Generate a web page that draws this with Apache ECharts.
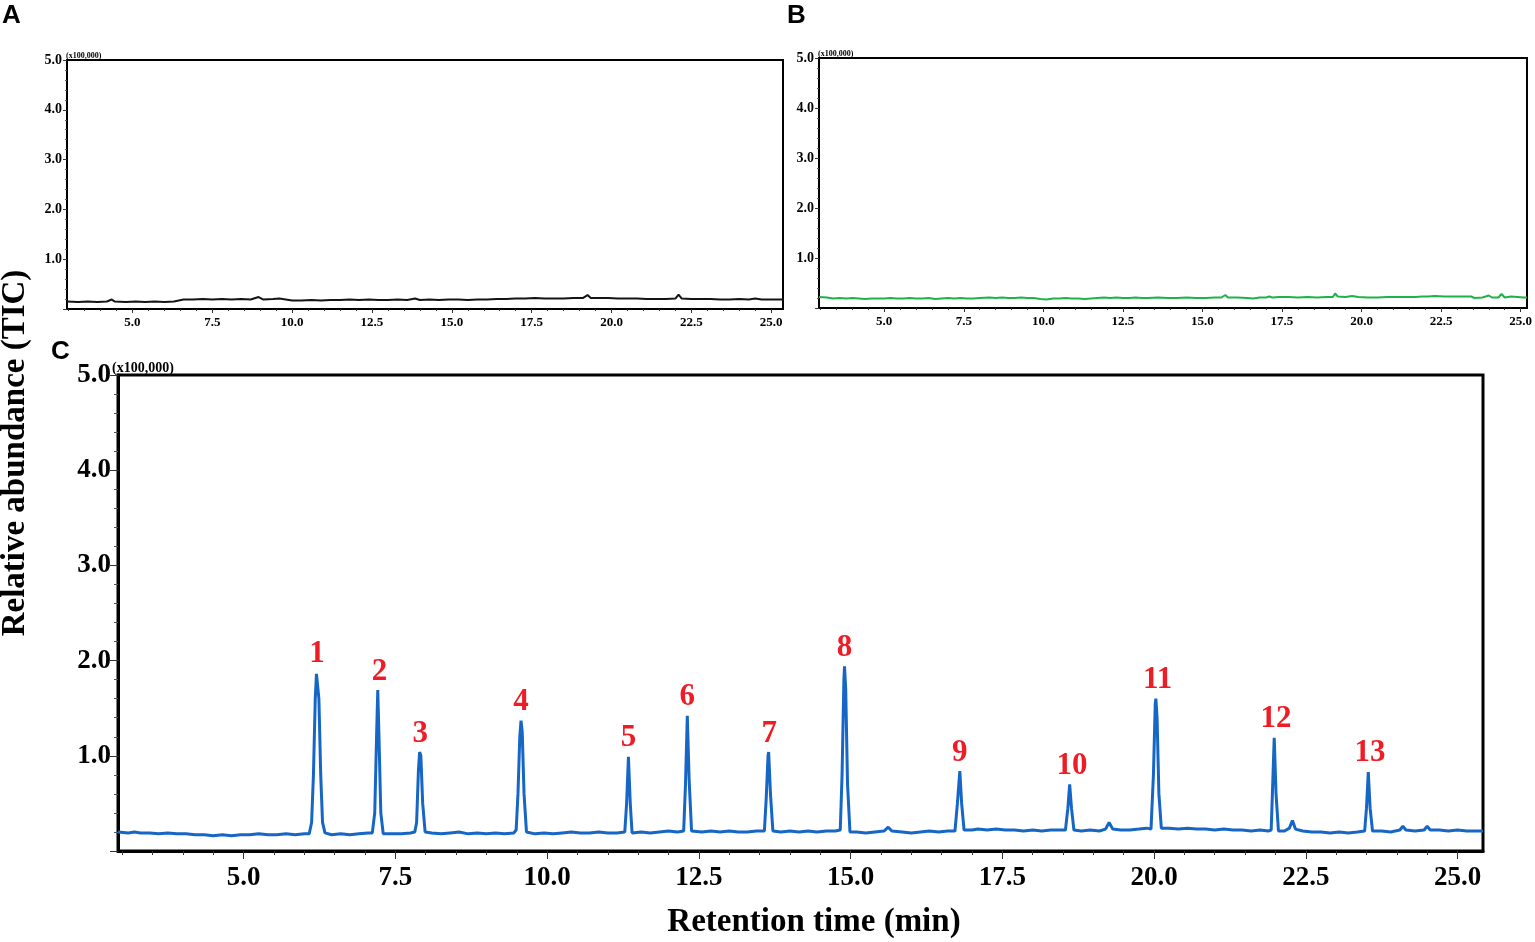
<!DOCTYPE html>
<html>
<head>
<meta charset="utf-8">
<script src="https://cdn.jsdelivr.net/npm/echarts@6/dist/echarts.min.js"></script>
<style>
html,body{margin:0;padding:0;background:#fff;}
#chart{width:1535px;height:942px;}
</style>
</head>
<body>
<div id="chart"></div>
<script>
// ---------- DATA ----------
const xMajorTicks = [5.0, 7.5, 10.0, 12.5, 15.0, 17.5, 20.0, 22.5, 25.0];
const xMinorTicks = [3.0, 3.5, 4.0, 4.5, 5.0, 5.5, 6.0, 6.5, 7.0, 7.5, 8.0, 8.5, 9.0, 9.5, 10.0, 10.5, 11.0, 11.5, 12.0, 12.5, 13.0, 13.5, 14.0, 14.5, 15.0, 15.5, 16.0, 16.5, 17.0, 17.5, 18.0, 18.5, 19.0, 19.5, 20.0, 20.5, 21.0, 21.5, 22.0, 22.5, 23.0, 23.5, 24.0, 24.5, 25.0];
const yMajorTicks = [1.0, 2.0, 3.0, 4.0, 5.0];
const yScaleNote = '(x100,000)';
const panelLetters = ['A', 'B', 'C'];

// Panel A (black TIC trace), [time (min), abundance (x100,000)]
const traceA = [[2.95,0.15],[3.3,0.14],[3.6,0.15],[3.9,0.14],[4.2,0.15],[4.35,0.19],[4.45,0.15],[4.8,0.14],[5.1,0.15],[5.4,0.14],[5.7,0.15],[6.0,0.14],[6.3,0.15],[6.45,0.17],[6.6,0.19],[6.9,0.19],[7.2,0.20],[7.5,0.19],[7.8,0.20],[8.1,0.19],[8.4,0.20],[8.7,0.19],[8.95,0.24],[9.1,0.19],[9.4,0.20],[9.6,0.21],[9.8,0.19],[10.0,0.17],[10.3,0.17],[10.6,0.18],[10.9,0.17],[11.2,0.18],[11.5,0.18],[11.8,0.19],[12.1,0.18],[12.4,0.19],[12.7,0.18],[13.0,0.18],[13.3,0.19],[13.6,0.18],[13.85,0.21],[14.0,0.18],[14.3,0.19],[14.6,0.18],[14.9,0.19],[15.2,0.19],[15.5,0.18],[15.8,0.19],[16.1,0.19],[16.4,0.20],[16.7,0.20],[17.0,0.21],[17.3,0.21],[17.6,0.22],[17.9,0.21],[18.2,0.21],[18.5,0.21],[18.8,0.22],[19.1,0.22],[19.25,0.28],[19.35,0.22],[19.6,0.22],[19.9,0.22],[20.2,0.21],[20.5,0.21],[20.8,0.21],[21.1,0.20],[21.4,0.20],[21.7,0.20],[22.0,0.21],[22.1,0.29],[22.2,0.21],[22.5,0.20],[22.8,0.20],[23.1,0.20],[23.4,0.19],[23.7,0.19],[24.0,0.20],[24.3,0.19],[24.5,0.21],[24.7,0.19],[25.0,0.19],[25.4,0.19]];

// Panel B (green TIC trace)
const traceB = [[2.95,0.22],[3.2,0.21],[3.4,0.19],[3.6,0.20],[3.8,0.19],[4.0,0.20],[4.2,0.19],[4.4,0.18],[4.6,0.19],[4.8,0.19],[5.0,0.19],[5.2,0.20],[5.4,0.19],[5.6,0.19],[5.8,0.20],[6.0,0.19],[6.2,0.19],[6.4,0.20],[6.6,0.18],[6.8,0.19],[7.0,0.20],[7.2,0.19],[7.4,0.20],[7.6,0.19],[7.8,0.19],[8.0,0.20],[8.3,0.21],[8.5,0.20],[8.7,0.21],[8.9,0.20],[9.1,0.20],[9.3,0.21],[9.5,0.20],[9.7,0.20],[9.9,0.18],[10.1,0.17],[10.3,0.19],[10.5,0.19],[10.7,0.20],[10.9,0.19],[11.1,0.19],[11.3,0.18],[11.5,0.19],[11.7,0.20],[11.9,0.21],[12.1,0.20],[12.3,0.21],[12.5,0.20],[12.7,0.20],[12.9,0.21],[13.1,0.20],[13.3,0.20],[13.6,0.21],[13.9,0.20],[14.2,0.20],[14.5,0.21],[14.8,0.20],[15.1,0.20],[15.4,0.21],[15.6,0.21],[15.72,0.26],[15.8,0.21],[16.1,0.21],[16.4,0.20],[16.6,0.19],[16.8,0.21],[17.0,0.21],[17.1,0.23],[17.2,0.21],[17.4,0.22],[17.7,0.22],[18.0,0.21],[18.3,0.22],[18.6,0.21],[18.9,0.22],[19.1,0.22],[19.17,0.29],[19.25,0.23],[19.5,0.22],[19.7,0.24],[19.9,0.22],[20.2,0.21],[20.5,0.21],[20.8,0.22],[21.1,0.22],[21.4,0.22],[21.7,0.22],[21.9,0.23],[22.1,0.23],[22.3,0.24],[22.6,0.23],[22.9,0.23],[23.2,0.23],[23.45,0.23],[23.55,0.20],[23.8,0.21],[24.0,0.25],[24.1,0.21],[24.3,0.21],[24.4,0.28],[24.5,0.21],[24.7,0.23],[24.9,0.22],[25.1,0.21],[25.2,0.21]];

// Panel C (blue TIC trace with 13 peaks)
const traceC = [[2.93,0.20],[3.10,0.19],[3.20,0.20],[3.30,0.19],[3.45,0.19],[3.60,0.18],[3.75,0.19],[3.90,0.18],[4.05,0.18],[4.20,0.17],[4.35,0.17],[4.50,0.16],[4.65,0.17],[4.80,0.16],[4.95,0.17],[5.10,0.17],[5.25,0.18],[5.40,0.17],[5.55,0.17],[5.70,0.18],[5.85,0.17],[6.00,0.18],
[6.08,0.18],[6.12,0.30],[6.15,0.80],[6.18,1.60],[6.20,1.86],[6.22,1.88],[6.24,1.60],[6.27,0.80],[6.30,0.30],[6.34,0.19],
[6.45,0.17],[6.60,0.18],[6.75,0.17],[6.90,0.18],[7.05,0.19],
[7.12,0.19],[7.16,0.40],[7.19,1.20],[7.21,1.69],[7.23,1.20],[7.26,0.40],[7.30,0.18],
[7.45,0.18],[7.60,0.18],[7.75,0.19],[7.82,0.20],
[7.85,0.30],[7.88,0.85],[7.90,1.04],[7.92,1.00],[7.95,0.50],[7.99,0.20],
[8.10,0.19],[8.25,0.18],[8.40,0.19],[8.55,0.20],[8.70,0.18],[8.85,0.19],[9.00,0.18],[9.15,0.19],[9.30,0.18],[9.45,0.19],
[9.49,0.22],[9.52,0.60],[9.55,1.20],[9.57,1.37],[9.59,1.25],[9.62,0.60],[9.66,0.20],
[9.80,0.18],[9.95,0.19],[10.10,0.18],[10.25,0.19],[10.40,0.20],[10.55,0.19],[10.70,0.19],[10.85,0.20],[11.00,0.19],[11.15,0.19],[11.28,0.20],
[11.31,0.50],[11.34,0.99],[11.37,0.50],[11.40,0.19],
[11.55,0.20],[11.70,0.19],[11.85,0.20],[12.00,0.21],[12.15,0.20],[12.25,0.21],
[12.28,0.70],[12.31,1.42],[12.34,0.75],[12.38,0.21],
[12.55,0.20],[12.70,0.21],[12.85,0.20],[13.00,0.21],[13.15,0.20],[13.30,0.20],[13.45,0.21],[13.58,0.21],
[13.61,0.55],[13.64,1.00],[13.65,1.04],[13.68,0.60],[13.72,0.21],
[13.85,0.20],[14.00,0.21],[14.15,0.20],[14.30,0.21],[14.45,0.20],[14.60,0.21],[14.75,0.21],[14.83,0.22],
[14.86,0.80],[14.89,1.80],[14.90,1.94],[14.92,1.70],[14.95,0.70],[14.99,0.20],
[15.10,0.20],[15.25,0.19],[15.40,0.20],[15.55,0.21],[15.62,0.25],[15.68,0.21],[15.85,0.20],[16.00,0.19],[16.15,0.20],[16.30,0.21],[16.45,0.20],[16.60,0.21],[16.72,0.21],
[16.76,0.50],[16.80,0.84],[16.83,0.50],[16.87,0.22],
[17.00,0.22],[17.10,0.23],[17.25,0.22],[17.40,0.23],[17.55,0.22],[17.70,0.22],[17.85,0.21],[18.00,0.22],[18.15,0.21],[18.30,0.22],[18.45,0.22],[18.54,0.22],
[18.58,0.45],[18.61,0.70],[18.64,0.45],[18.68,0.22],
[18.80,0.21],[18.95,0.22],[19.10,0.21],[19.20,0.23],[19.26,0.30],[19.32,0.23],[19.45,0.22],[19.60,0.22],[19.75,0.23],[19.88,0.24],[19.95,0.23],
[19.99,0.80],[20.02,1.55],[20.03,1.60],[20.05,1.40],[20.08,0.60],[20.12,0.24],
[20.25,0.24],[20.40,0.23],[20.55,0.24],[20.70,0.23],[20.85,0.23],[21.00,0.22],[21.15,0.23],[21.30,0.22],[21.45,0.22],[21.60,0.21],[21.75,0.22],[21.88,0.21],[21.93,0.22],
[21.95,0.60],[21.98,1.19],[22.01,0.60],[22.05,0.21],
[22.15,0.21],[22.23,0.24],[22.28,0.32],[22.33,0.23],[22.45,0.21],[22.60,0.20],[22.75,0.20],[22.90,0.19],[23.05,0.20],[23.20,0.19],[23.35,0.20],[23.47,0.21],
[23.50,0.45],[23.53,0.83],[23.56,0.45],[23.60,0.21],
[23.75,0.21],[23.90,0.20],[24.05,0.22],[24.10,0.26],[24.15,0.22],[24.30,0.21],[24.45,0.22],[24.50,0.26],[24.55,0.22],[24.70,0.22],[24.85,0.21],[25.00,0.22],[25.15,0.21],[25.30,0.21],[25.42,0.21]];

// Peak annotations in panel C
const peakNames = ['1','2','3','4','5','6','7','8','9','10','11','12','13'];
const peakTimes = [6.21, 7.24, 7.91, 9.57, 11.34, 12.31, 13.66, 14.90, 16.80, 18.65, 20.06, 22.01, 23.56];
const peakHeights = [1.88, 1.69, 1.04, 1.37, 0.99, 1.42, 1.04, 1.94, 0.84, 0.70, 1.60, 1.19, 0.83];

// ---------- CHART ----------
const SERIF = "'Liberation Serif','Times New Roman',serif";
const SANS = "'Liberation Sans',Arial,sans-serif";
const chart = echarts.init(document.getElementById('chart'), null, {renderer: 'canvas'});

function fmt(v) { return Number(v).toFixed(1); }

const grids = [
  {left: 67, top: 60, width: 716, height: 249, show: true, borderColor: '#000', borderWidth: 2, backgroundColor: 'transparent'},
  {left: 819, top: 58, width: 713, height: 250, show: true, borderColor: '#000', borderWidth: 2, backgroundColor: 'transparent'},
  {left: 118, top: 375, width: 1365, height: 476, show: true, borderColor: '#000', borderWidth: 3, backgroundColor: 'transparent'}
];
const xMin = [2.95, 2.95, 2.93];
const xMax = [25.37, 25.2, 25.42];
const small = [true, true, false];

const xAxes = [];
const yAxes = [];
grids.forEach((g, i) => {
  const s = small[i];
  xAxes.push({
    type: 'value', gridIndex: i, position: 'bottom', min: xMin[i], max: xMax[i],
    axisLine: {show: true, lineStyle: {color: '#000', width: s ? 2 : 3}},
    axisTick: {show: true, inside: false, customValues: xMinorTicks, length: s ? 2 : 4, lineStyle: {color: '#333', width: 1}},
    axisLabel: {show: true, customValues: xMajorTicks, formatter: fmt, margin: s ? 7 : 14,
      fontFamily: SERIF, fontWeight: 'bold', fontSize: s ? 13 : 27, color: '#000'},
    splitLine: {show: false}
  });
  xAxes.push({
    type: 'value', gridIndex: i, position: 'bottom', min: xMin[i], max: xMax[i],
    axisLine: {show: false},
    axisTick: {show: true, inside: false, customValues: xMajorTicks, length: s ? 4 : 8, lineStyle: {color: '#333', width: 1}},
    axisLabel: {show: false},
    splitLine: {show: false}
  });
  yAxes.push({
    type: 'value', gridIndex: i, min: 0, max: 5, interval: 1,
    axisLine: {show: true, lineStyle: {color: '#000', width: s ? 2 : 3}},
    axisTick: {show: true, inside: false, length: s ? 4 : 8, lineStyle: {color: '#333', width: 1}},
    minorTick: {show: true, splitNumber: 5, length: s ? 2 : 4, lineStyle: {color: '#555', width: 1}},
    axisLabel: {show: true, customValues: yMajorTicks, formatter: fmt, margin: s ? 5 : 7,
      fontFamily: SERIF, fontWeight: 'bold', fontSize: s ? 14 : 27, color: '#000'},
    splitLine: {show: false}
  });
});

const peakData = peakTimes.map((t, i) => [t, peakHeights[i], peakNames[i]]);

const option = {
  animation: false,
  backgroundColor: '#fff',
  grid: grids,
  xAxis: xAxes,
  yAxis: yAxes,
  series: [
    {type: 'line', xAxisIndex: 0, yAxisIndex: 0, data: traceA, showSymbol: false, symbol: 'none',
      lineStyle: {color: '#141414', width: 2}, silent: true},
    {type: 'line', xAxisIndex: 2, yAxisIndex: 1, data: traceB, showSymbol: false, symbol: 'none',
      lineStyle: {color: '#1fb24a', width: 2}, silent: true},
    {type: 'line', xAxisIndex: 4, yAxisIndex: 2, data: traceC, showSymbol: false, symbol: 'none',
      lineStyle: {color: '#1666c6', width: 3}, silent: true},
    {type: 'scatter', xAxisIndex: 4, yAxisIndex: 2, data: peakData, symbolSize: 2,
      itemStyle: {color: 'rgba(255,255,255,0)'}, silent: true, z: 10,
      label: {show: true, position: 'top', distance: 2, formatter: p => p.data[2], opacity: 1,
        fontFamily: SERIF, fontWeight: 'bold', fontSize: 31, color: '#ee1c25'}}
  ],
  graphic: [
    {type: 'text', x: 2, y: 3, style: {text: panelLetters[0], font: 'bold 26px ' + SANS, fill: '#000', align: 'left', verticalAlign: 'top'}},
    {type: 'text', x: 787, y: 3, style: {text: panelLetters[1], font: 'bold 26px ' + SANS, fill: '#000', align: 'left', verticalAlign: 'top'}},
    {type: 'text', x: 51, y: 339, style: {text: panelLetters[2], font: 'bold 26px ' + SANS, fill: '#000', align: 'left', verticalAlign: 'top'}},
    {type: 'text', x: 66, y: 60, style: {text: yScaleNote, font: 'bold 8px ' + SERIF, fill: '#000', align: 'left', verticalAlign: 'bottom'}},
    {type: 'text', x: 818, y: 58, style: {text: yScaleNote, font: 'bold 8px ' + SERIF, fill: '#000', align: 'left', verticalAlign: 'bottom'}},
    {type: 'text', x: 112, y: 375, style: {text: yScaleNote, font: 'bold 14px ' + SERIF, fill: '#000', align: 'left', verticalAlign: 'bottom'}},
    {type: 'text', x: 15, y: 453, rotation: Math.PI / 2,
      style: {text: 'Relative abundance (TIC)', font: 'bold 33px ' + SERIF, fill: '#000', align: 'center', verticalAlign: 'middle'}},
    {type: 'text', x: 814, y: 922,
      style: {text: 'Retention time (min)', font: 'bold 33px ' + SERIF, fill: '#000', align: 'center', verticalAlign: 'middle'}}
  ]
};
chart.setOption(option);
</script>
</body>
</html>
